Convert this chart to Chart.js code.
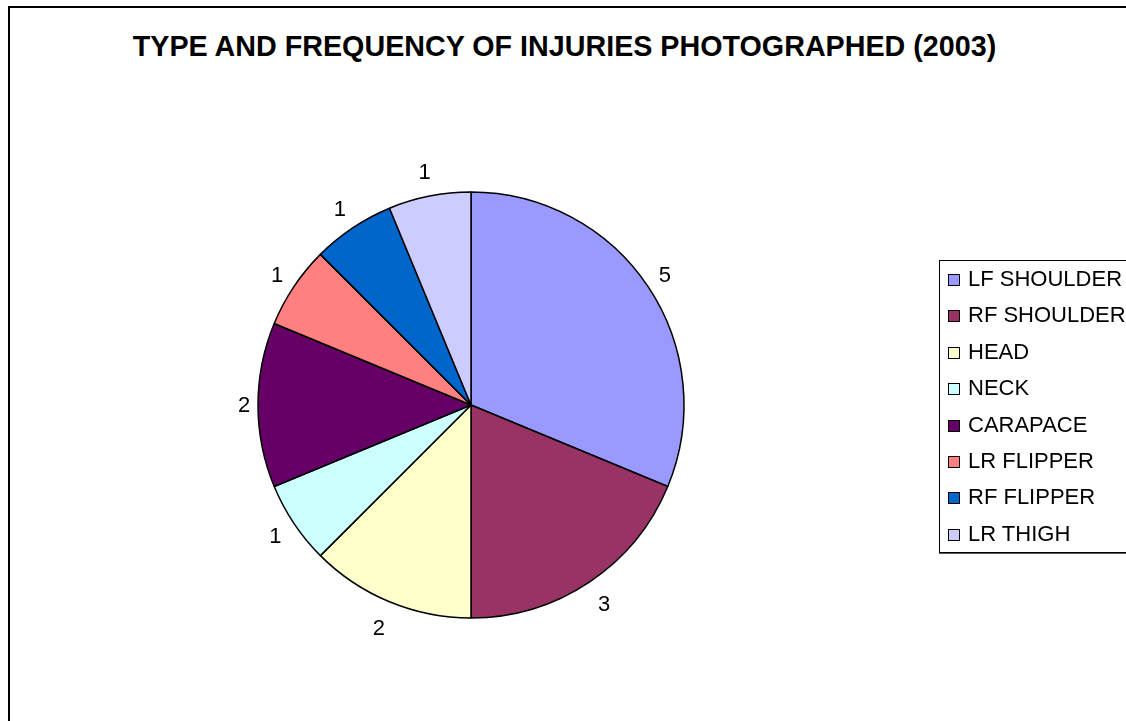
<!DOCTYPE html>
<html>
<head>
<meta charset="utf-8">
<script src="https://cdn.jsdelivr.net/npm/chart.js@4.4.1/dist/chart.umd.min.js"></script>
<style>
    html, body {
        margin: 0;
        padding: 0;
        background: #fff;
        width: 1126px;
        height: 721px;
        overflow: hidden;
        font-family: "Liberation Sans", Arial, sans-serif;
    }
    #frame {
        position: absolute;
        left: 8px;
        top: 6px;
        width: 1200px;
        height: 800px;
        border: 2px solid #000;
        box-sizing: border-box;
    }
    #title {
        position: absolute;
        left: 0;
        top: 32px;
        width: 1129px;
        text-align: center;
        font-size: 28.7px;
        font-weight: bold;
        line-height: 1;
        color: #000;
        white-space: nowrap;
    }
    #pieChart {
        position: absolute;
        left: 0;
        top: 0;
    }
    #legend {
        position: absolute;
        left: 939px;
        top: 260px;
        width: 220px;
        border: 1px solid #000;
        box-shadow: 0 1px 0 #555;
        background: #fff;
        padding: 0 0 0 8px;
        font-size: 22px;
        line-height: 36.4px;
        color: #000;
        white-space: nowrap;
    }
    #legend .box {
        display: inline-block;
        width: 10px;
        height: 10px;
        border: 1px solid #000;
        margin-right: 8px;
        vertical-align: baseline;
    }
</style>
</head>
<body>
<div id="frame"></div>
<div id="title">TYPE AND FREQUENCY OF INJURIES PHOTOGRAPHED (2003)</div>
<canvas id="pieChart" width="1126" height="721"></canvas>
<div id="legend"></div>

<script>
// ==================== Data ====================

const injuryLabels = ['LF SHOULDER', 'RF SHOULDER', 'HEAD', 'NECK', 'CARAPACE', 'LR FLIPPER', 'RF FLIPPER', 'LR THIGH'];
const injuryCounts = [5, 3, 2, 1, 2, 1, 1, 1];
const sliceColors = ['#9999FF', '#993366', '#FFFFCC', '#CCFFFF', '#660066', '#FF8080', '#0066CC', '#CCCCFF'];

// ==================== Legend ====================

const legendEl = document.getElementById('legend');
injuryLabels.forEach((label, i) => {
    const row = document.createElement('div');
    const sw = document.createElement('span');
    sw.className = 'box';
    sw.style.background = sliceColors[i];
    row.appendChild(sw);
    row.appendChild(document.createTextNode(label));
    legendEl.appendChild(row);
});

// ==================== Value labels outside slices ====================

const outsideLabels = {
    id: 'outsideLabels',
    afterDatasetsDraw(chart) {
        const ctx = chart.ctx;
        const meta = chart.getDatasetMeta(0);
        const values = chart.data.datasets[0].data;
        ctx.save();
        ctx.font = '22px "Liberation Sans", Arial, sans-serif';
        ctx.fillStyle = '#000';
        ctx.textAlign = 'center';
        ctx.textBaseline = 'alphabetic';
        meta.data.forEach((arc, i) => {
            const p = arc.getProps(['x', 'y', 'startAngle', 'endAngle', 'outerRadius'], true);
            const mid = (p.startAngle + p.endAngle) / 2;
            const vert = Math.abs(Math.sin(mid));
            const dist = p.outerRadius + 14 + 11 * vert + (Math.sin(mid) > 0 ? 4 * vert : 0);
            const cx = p.x + Math.cos(mid) * dist;
            const cy = p.y + Math.sin(mid) * dist;
            ctx.fillText(String(values[i]), cx, cy + 7);
        });
        ctx.restore();
    }
};

// ==================== Chart ====================

new Chart(document.getElementById('pieChart'), {
    type: 'pie',
    data: {
        labels: injuryLabels,
        datasets: [{
            data: injuryCounts,
            backgroundColor: sliceColors,
            borderColor: '#000',
            borderWidth: 1.5,
            radius: 213
        }]
    },
    options: {
        responsive: false,
        animation: false,
        events: [],
        layout: {
            padding: { left: 258, right: 442, top: 192, bottom: 103 }
        },
        plugins: {
            legend: { display: false },
            title: { display: false },
            tooltip: { enabled: false }
        }
    },
    plugins: [outsideLabels]
});
</script>
</body>
</html>
